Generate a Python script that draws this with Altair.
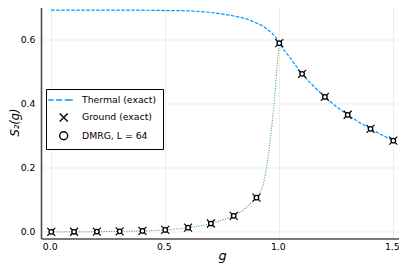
import altair as alt
import pandas as pd

# ---- data ----
g_points = [0.0, 0.1, 0.2, 0.3, 0.4, 0.5, 0.6, 0.7, 0.8, 0.9, 1.0, 1.1, 1.2, 1.3, 1.4, 1.5]
ground_exact = [0.0, 0.0002, 0.0007, 0.0015, 0.003, 0.006, 0.013, 0.026, 0.05, 0.107,
                0.59, 0.494, 0.422, 0.366, 0.322, 0.285]
dmrg_L64 = [0.0, 0.0002, 0.0007, 0.0015, 0.003, 0.006, 0.013, 0.026, 0.05, 0.107,
            0.59, 0.494, 0.422, 0.366, 0.322, 0.285]

g_thermal = [0.0, 0.2, 0.4, 0.5, 0.6, 0.65, 0.7, 0.75, 0.8, 0.85, 0.9, 0.93, 0.95, 0.97,
             0.98, 0.99, 1.0, 1.05, 1.1, 1.15, 1.2, 1.25, 1.3, 1.35, 1.4, 1.45, 1.5]
s_thermal = [0.693, 0.693, 0.693, 0.692, 0.691, 0.689, 0.686, 0.681, 0.675, 0.667, 0.653,
             0.642, 0.632, 0.620, 0.612, 0.602, 0.590, 0.542, 0.494, 0.456, 0.422, 0.392,
             0.366, 0.343, 0.322, 0.303, 0.285]

g_ground_curve = [0.0, 0.1, 0.2, 0.3, 0.4, 0.5, 0.6, 0.7, 0.75, 0.8, 0.85, 0.88, 0.9, 0.92,
                  0.93, 0.94, 0.95, 0.96, 0.97, 0.98, 0.99, 1.0]
s_ground_curve = [0.0, 0.0002, 0.0007, 0.0015, 0.003, 0.006, 0.013, 0.026, 0.037, 0.05,
                  0.073, 0.092, 0.107, 0.13, 0.15, 0.184, 0.23, 0.285, 0.35, 0.425, 0.515, 0.59]

legend_labels = ["Thermal (exact)", "Ground (exact)", "DMRG, L = 64"]

x_ticks = [0.0, 0.5, 1.0, 1.5]
y_ticks = [0.0, 0.2, 0.4, 0.6]

# ---- styling ----
BLUE = "#009AFA"
GREEN = "#3EA44E"
FONT = "DejaVu Sans"

thermal_df = pd.DataFrame({"g": g_thermal, "S": s_thermal})
curve_df = pd.DataFrame({"g": g_ground_curve, "S": s_ground_curve})
ground_df = pd.DataFrame({"g": g_points, "S": ground_exact})
dmrg_df = pd.DataFrame({"g": g_points, "S": dmrg_L64})
legend_df = pd.DataFrame({"series": legend_labels})

x_scale = alt.Scale(domain=[-0.045, 1.525], nice=False, zero=False)
y_scale = alt.Scale(domain=[-0.0208, 0.714], nice=False, zero=False)

x_axis = alt.Axis(values=x_ticks, format=".1f", title="g", grid=True, ticks=False,
                  labelPadding=4, labelOffset=-1.5, titleFontStyle="italic",
                  titleFontWeight="normal", titleFontSize=13, titleX=181, titleY=21,
                  titleBaseline="alphabetic")
y_axis = alt.Axis(values=y_ticks, format=".1f", title="S₂(g)", grid=True, ticks=False,
                  labelPadding=6, titleFontStyle="italic", titleFontWeight="normal",
                  titleFontSize=11.5, titleX=-26, titleY=118.5, titleBaseline="middle",
                  titleAlign="center", titleAngle=270)

X = alt.X("g:Q", scale=x_scale, axis=x_axis)
Y = alt.Y("S:Q", scale=y_scale, axis=y_axis)

thermal = alt.Chart(thermal_df).mark_line(
    color=BLUE, strokeWidth=1.2, strokeDash=[3.5, 1.5], interpolate="monotone"
).encode(x=X, y=Y)

curve = alt.Chart(curve_df).mark_line(
    color=GREEN, strokeWidth=1.1, strokeDash=[1, 1.5], interpolate="monotone"
).encode(x=X, y=Y)

cross_path = "M-1,-1L1,1M-1,1L1,-1"
ground = alt.Chart(ground_df).mark_point(
    shape=cross_path, size=64, color="black", strokeWidth=1.2, filled=False, opacity=1
).encode(x=X, y=Y)

dmrg = alt.Chart(dmrg_df).mark_point(
    shape="circle", size=20, stroke="black", fill="white", strokeWidth=1.3,
    filled=True, opacity=1, fillOpacity=1
).encode(x=X, y=Y)

dash_path = "M-3.85,0L-2.5,0M-1.9,0L-0.4,0M0.25,0L2.25,0"
leg = alt.Legend(title=None, orient="none", legendX=5, legendY=85.5,
                 strokeColor="black", fillColor="white", padding=6, cornerRadius=0,
                 symbolOffset=6.7, labelOffset=13.3, labelFont=FONT, labelFontSize=9.3,
                 labelColor="black", rowPadding=4.4, symbolSize=64)

legend_layer = alt.Chart(legend_df).mark_point(filled=False, opacity=1).encode(
    shape=alt.Shape("series:N", scale=alt.Scale(domain=legend_labels,
                    range=[dash_path, cross_path, "circle"]), legend=leg),
    color=alt.Color("series:N", scale=alt.Scale(domain=legend_labels,
                    range=[BLUE, "black", "black"]), legend=leg),
    strokeWidth=alt.StrokeWidth("series:N", scale=alt.Scale(domain=legend_labels,
                    range=[1.3, 1.4, 2.2]), legend=leg),
).transform_filter("false")

chart = alt.layer(thermal, curve, ground, dmrg, legend_layer).properties(
    width=358, height=235,
    autosize=alt.AutoSizeParams(type="none"),
    padding={"left": 33, "top": -4.5, "right": 0, "bottom": 24.5},
    background="white",
).configure_view(stroke=None).configure_axis(
    labelFont=FONT, labelFontSize=9.3, labelColor="black",
    titleFont=FONT, titleColor="black",
    domainColor="#4d4d4d", domainWidth=1.6,
    gridColor="#e8e8e8", gridWidth=0.8,
)

chart.save("out.html", embed_options={"renderer": "svg", "actions": False})
